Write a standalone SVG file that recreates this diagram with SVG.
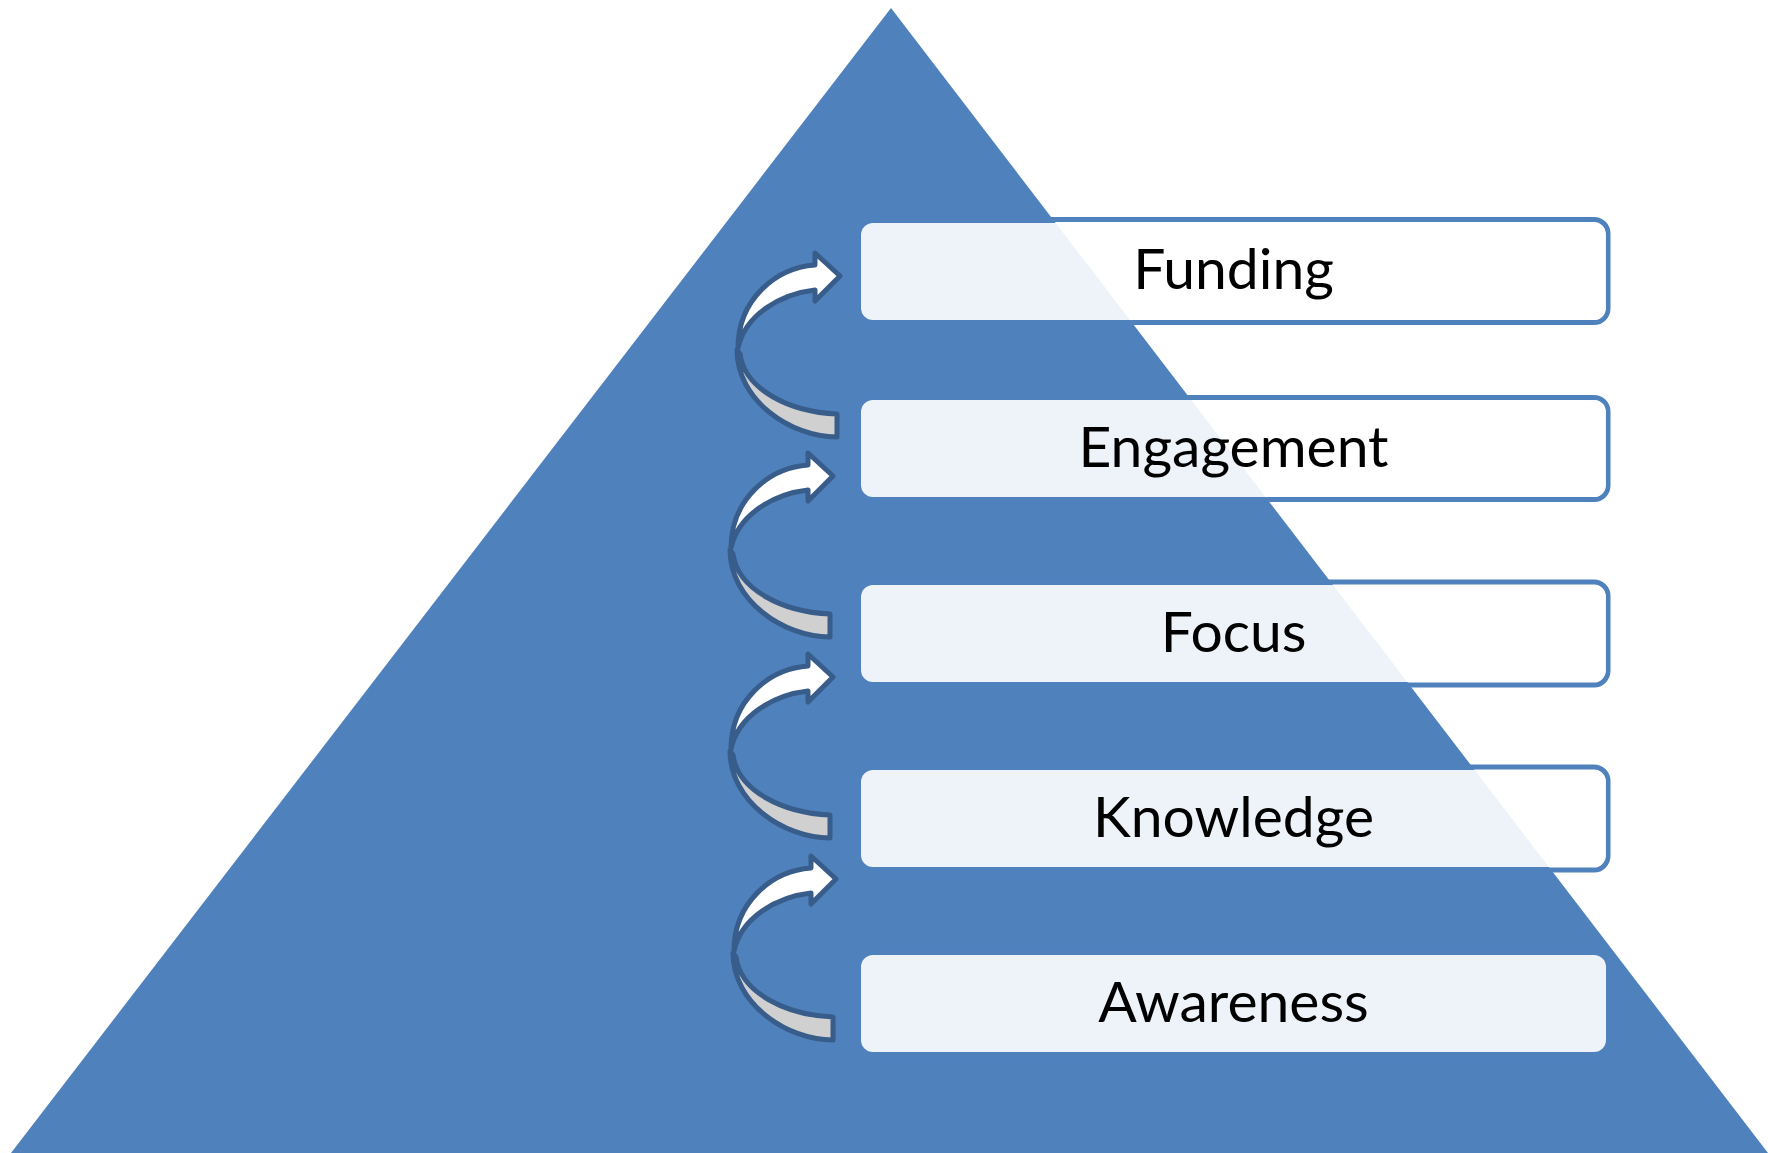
<svg xmlns="http://www.w3.org/2000/svg" width="1768" height="1153" viewBox="0 0 1768 1153">
<style>
.tri{fill:#4F81BD}
.outline{fill:none;stroke:#4F81BD;stroke-width:5}
.box{fill:#FFFFFF;fill-opacity:0.9}
.lbl{font-family:Lato,"Open Sans","Liberation Sans",sans-serif;font-size:57px;fill:#000000;text-anchor:middle}
.aw{fill:#FFFFFF;stroke:#385D8A;stroke-width:5;stroke-linejoin:round}
.ag{fill:#D0D0D0;stroke:#385D8A;stroke-width:5;stroke-linejoin:round}
</style>
<defs>
<g id="carrow">
<path class="ag" d="M737,350 C737,400 790,437 837,437 L837,414 C790,412 745,390 740,354 Z"/>
<path class="aw" d="M738,348 C738,300 775,268 815,265 L815,253 L840,276 L815,301 L815,290 C780,294 745,315 738,348 Z"/>
</g>
</defs>
<polygon id="pyramid" class="tri" points="891,8 11,1153 1768,1153"/>
<g id="outlines">
<rect class="outline" x="866" y="219.5" width="742" height="103" rx="14"/>
<rect class="outline" x="866" y="397.5" width="742" height="102" rx="14"/>
<rect class="outline" x="866" y="582" width="742" height="103" rx="14"/>
<rect class="outline" x="866" y="767" width="742" height="103" rx="14"/>
<rect class="outline" x="866" y="952" width="742" height="103" rx="14"/>
</g>
<g id="funding"><rect class="box" x="861" y="223" width="745" height="97" rx="12"/><text class="lbl" x="1233.5" y="289">Funding</text></g>
<g id="engagement"><rect class="box" x="861" y="400" width="745" height="97" rx="12"/><text class="lbl" x="1233.5" y="467">Engagement</text></g>
<g id="focus"><rect class="box" x="861" y="585" width="745" height="97" rx="12"/><text class="lbl" x="1233.5" y="652">Focus</text></g>
<g id="knowledge"><rect class="box" x="861" y="770" width="745" height="97" rx="12"/><text class="lbl" x="1233.5" y="837">Knowledge</text></g>
<g id="awareness"><rect class="box" x="861" y="955" width="745" height="97" rx="12"/><text class="lbl" x="1233.5" y="1022">Awareness</text></g>
<g id="connectors">
<use href="#carrow"/>
<use href="#carrow" transform="translate(-7,200)"/>
<use href="#carrow" transform="translate(-7,401)"/>
<use href="#carrow" transform="translate(-4,603)"/>
</g>
</svg>
